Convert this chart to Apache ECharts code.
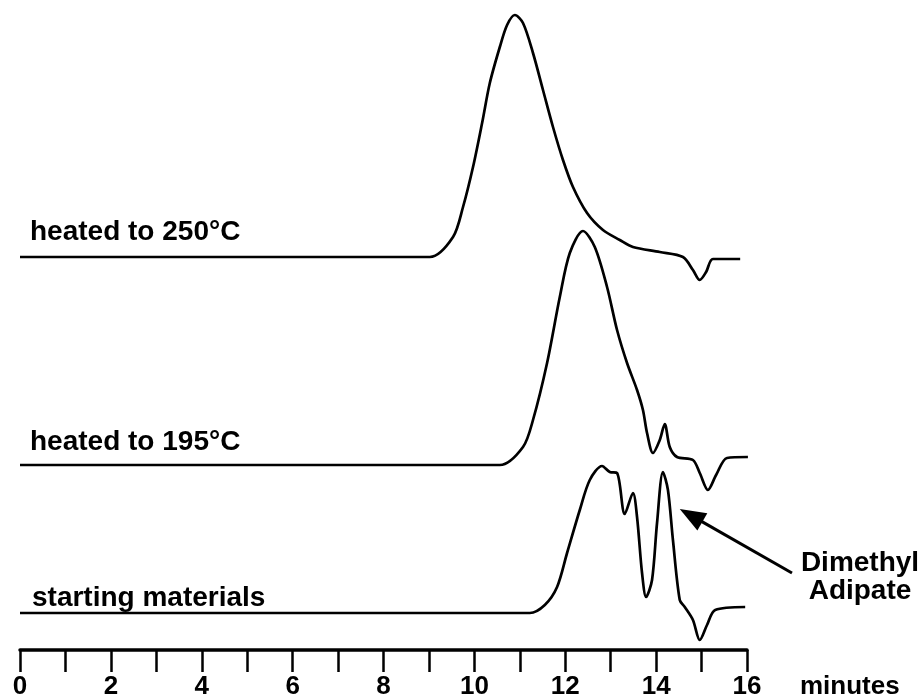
<!DOCTYPE html>
<html>
<head>
<meta charset="utf-8">
<script src="https://cdn.jsdelivr.net/npm/echarts@6/dist/echarts.min.js"></script>
<style>
    html, body {margin: 0; padding: 0; background: #fff;}
    #chart {width: 921px; height: 698px;}
</style>
</head>
<body>
<div id="chart"></div>
<script>
    // time in minutes, detector signal (stacked, arbitrary units)
    var t250 = [0, 9.02, 9.53, 9.75, 9.97, 10.17, 10.34, 10.56, 10.72, 10.89, 11.07, 11.29, 11.51, 11.73, 11.95, 12.17, 12.48, 12.83, 13.2, 13.49, 14.08, 14.59, 14.81, 14.96, 15.1, 15.25, 15.85];
    var v250 = [393, 393, 413, 443, 483, 527, 567, 603, 625, 635, 627, 597, 560, 523, 490, 463, 437, 420, 410, 403, 398, 393, 380, 370, 378, 391, 391];

    var t195 = [0, 10.56, 11.07, 11.29, 11.6, 11.88, 12.1, 12.39, 12.65, 12.92, 13.14, 13.36, 13.58, 13.71, 13.8, 13.93, 14.08, 14.19, 14.3, 14.46, 14.81, 14.96, 15.14, 15.32, 15.56, 16.02];
    var v195 = [185, 185, 203, 230, 287, 353, 397, 419, 403, 363, 320, 287, 260, 240, 217, 197, 210, 226, 203, 193, 190, 177, 160, 175, 192, 193];

    var tStart = [0, 11.22, 11.55, 11.82, 12.04, 12.32, 12.54, 12.81, 12.98, 13.14, 13.31, 13.49, 13.58, 13.69, 13.78, 13.91, 14.02, 14.15, 14.26, 14.37, 14.52, 14.63, 14.81, 14.96, 15.12, 15.3, 15.96];
    var vStart = [37, 37, 45, 63, 97, 140, 170, 184, 178, 177, 136, 157, 133, 77, 53, 70, 127, 178, 160, 110, 50, 43, 30, 10, 25, 40, 43];

    var traceNames = ["heated to 250°C", "heated to 195°C", "starting materials"];
    // arrow pointing at the dimethyl adipate peak: tail and tip in (min, signal)
    var arrowTail = [16.99, 77];
    var arrowTip = [14.52, 141];

    function pairs(t, v) {
        return t.map(function (x, i) { return [x, v[i]]; });
    }

    var font = "'Liberation Sans', Arial, Helvetica, sans-serif";
    var lineStyle = {color: "#000", width: 2.7};

    var series = [
        {name: traceNames[0], type: "line", data: pairs(t250, v250)},
        {name: traceNames[1], type: "line", data: pairs(t195, v195)},
        {name: traceNames[2], type: "line", data: pairs(tStart, vStart)}
    ].map(function (s) {
        s.showSymbol = false;
        s.smooth = 0.3;
        s.lineStyle = lineStyle;
        s.itemStyle = {color: "#000"};
        return s;
    });

    function txt(x, y, s, size, align) {
        return {
            type: "text", x: x, y: y,
            style: {text: s, font: "bold " + size + "px " + font, fill: "#000", align: align || "left", verticalAlign: "middle"}
        };
    }

    var chart = echarts.init(document.getElementById("chart"));
    chart.setOption({
        animation: false,
        backgroundColor: "#fff",
        grid: {left: 20, right: 174, top: 10, bottom: 48, outerBoundsMode: "none"},
        xAxis: {
            type: "value",
            min: 0,
            max: 16,
            interval: 1,
            axisLine: {lineStyle: {color: "#000", width: 3.5}},
            axisTick: {length: 22, lineStyle: {color: "#000", width: 2.5}},
            splitLine: {show: false},
            axisLabel: {
                margin: 24,
                color: "#000",
                fontFamily: font,
                fontWeight: "bold",
                fontSize: 26,
                formatter: function (v) { return v % 2 === 0 ? String(v) : ""; }
            }
        },
        yAxis: {type: "value", min: 0, max: 640, show: false},
        series: series
    });

    // arrow drawn through the chart's own scales
    var a = chart.convertToPixel({gridIndex: 0}, arrowTail);
    var b = chart.convertToPixel({gridIndex: 0}, arrowTip);
    var dx = a[0] - b[0], dy = a[1] - b[1];
    var len = Math.sqrt(dx * dx + dy * dy);
    var ux = dx / len, uy = dy / len;
    var nx = -uy, ny = ux;
    var headLen = 26, headHalf = 10;
    var hb = [b[0] + ux * headLen, b[1] + uy * headLen];

    chart.setOption({
        graphic: [
            txt(30, 232, traceNames[0], 28),
            txt(30, 442, traceNames[1], 28),
            txt(32, 598, traceNames[2], 28),
            txt(860, 563, "Dimethyl", 28, "center"),
            txt(860, 591, "Adipate", 28, "center"),
            txt(800, 687, "minutes", 26),
            {
                type: "line",
                shape: {x1: a[0], y1: a[1], x2: hb[0] - ux * 4, y2: hb[1] - uy * 4},
                style: {stroke: "#000", lineWidth: 3}
            },
            {
                type: "polygon",
                shape: {points: [b, [hb[0] + nx * headHalf, hb[1] + ny * headHalf], [hb[0] - nx * headHalf, hb[1] - ny * headHalf]]},
                style: {fill: "#000"}
            }
        ]
    });
</script>
</body>
</html>
